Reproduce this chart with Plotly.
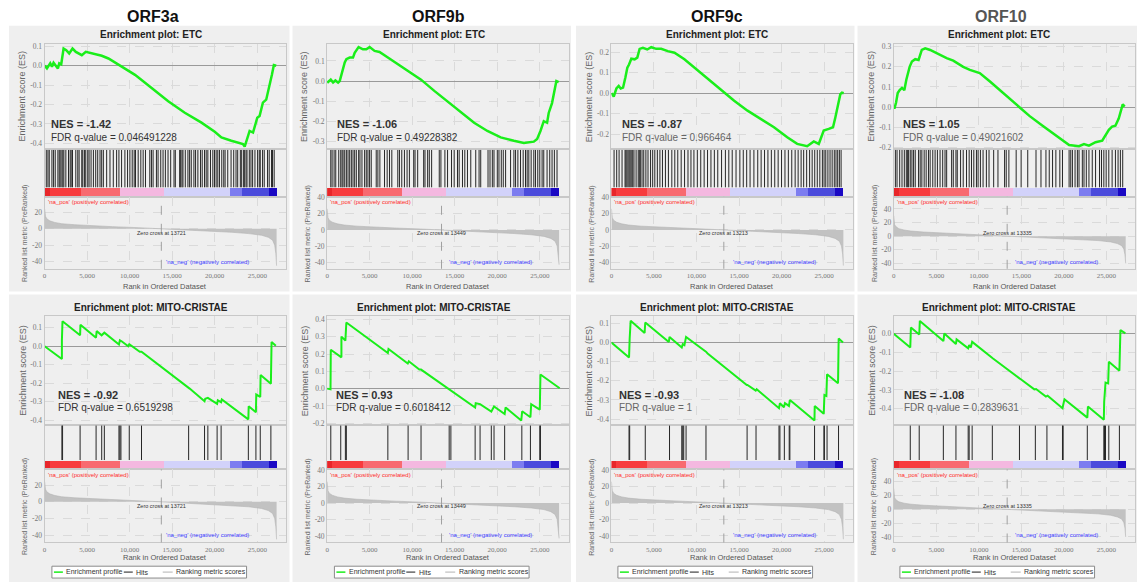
import plotly.graph_objects as go

W, H = 1137, 585

# ---------------- data ----------------
SAMPLES = ["ORF3a", "ORF9b", "ORF9c", "ORF10"]
GENE_SETS = ["ETC", "MITO-CRISTAE"]

NES_ETC = ["-1.42", "-1.06", "-0.87", "1.05"]
FDR_ETC = ["0.046491228", "0.49228382", "0.966464", "0.49021602"]
NES_MITO = ["-0.92", "0.93", "-0.93", "-1.08"]
FDR_MITO = ["0.6519298", "0.6018412", "1", "0.2839631"]
ZERO_CROSS = [13721, 13449, 13213, 13335]

RANK_TICKS = [0, 5000, 10000, 15000, 20000, 25000]

# running enrichment score, ETC
ES_ETC_ORF3A_X = [0, 270, 660, 860, 1050, 1250, 1560, 1720, 1950, 2230, 2540, 2890, 3280, 3670, 4375, 4840, 5550, 6720, 7500, 8670, 10625, 12580, 14530, 16480, 18440, 20000, 20780, 21950, 22730, 23320, 23520, 23900, 24100, 24500, 25000, 25270, 25660, 26050, 26450, 26720, 26950, 27230]
ES_ETC_ORF3A_Y = [0.0, -0.014, 0.012, -0.005, 0.015, 0.003, -0.014, 0.012, 0.007, 0.088, 0.080, 0.063, 0.088, 0.071, 0.054, 0.071, 0.063, 0.051, 0.037, 0.007, -0.047, -0.115, -0.183, -0.242, -0.293, -0.340, -0.369, -0.386, -0.395, -0.403, -0.417, -0.369, -0.336, -0.344, -0.268, -0.259, -0.190, -0.175, -0.107, -0.047, 0.003, 0.0]

ES_ETC_ORF9B_X = [0, 120, 430, 700, 975, 1290, 1480, 1755, 2070, 2260, 2650, 3040, 3240, 3700, 4210, 4600, 5000, 5580, 6160, 7140, 8300, 9480, 11040, 12600, 14160, 15720, 17280, 18840, 20400, 21960, 23130, 24300, 24690, 25080, 25470, 25860, 26050, 26440, 26640, 26950, 27220]
ES_ETC_ORF9B_Y = [0.0, -0.005, 0.007, -0.007, 0.003, -0.008, 0.0, 0.044, 0.093, 0.109, 0.117, 0.117, 0.141, 0.169, 0.158, 0.158, 0.169, 0.150, 0.145, 0.117, 0.085, 0.052, 0.007, -0.049, -0.102, -0.156, -0.208, -0.249, -0.281, -0.298, -0.309, -0.302, -0.289, -0.249, -0.200, -0.208, -0.159, -0.110, -0.062, 0.0, -0.005]

ES_ETC_ORF9C_X = [0, 273, 585, 858, 1090, 1365, 1640, 1870, 2070, 2340, 2730, 3040, 3315, 3700, 4210, 4680, 5265, 5850, 6630, 7410, 8580, 9750, 11310, 12870, 14430, 16000, 17550, 19110, 20670, 21840, 23010, 23790, 24375, 24960, 25545, 26050, 26325, 26640, 26910, 27100, 27300]
ES_ETC_ORF9C_Y = [0.0, -0.016, 0.023, 0.035, 0.023, 0.027, 0.076, 0.124, 0.140, 0.168, 0.165, 0.173, 0.216, 0.221, 0.213, 0.224, 0.216, 0.216, 0.205, 0.197, 0.165, 0.124, 0.071, 0.016, -0.037, -0.085, -0.126, -0.166, -0.215, -0.247, -0.258, -0.235, -0.247, -0.182, -0.174, -0.166, -0.118, -0.061, -0.005, 0.003, 0.0]

ES_ETC_ORF10_X = [0, 78, 270, 470, 700, 970, 1245, 1480, 1870, 2140, 2530, 2920, 3300, 3700, 4280, 5060, 6220, 7000, 8170, 8950, 10110, 11280, 12840, 14390, 15950, 17500, 19060, 20620, 21780, 22370, 22950, 23730, 24510, 24900, 25290, 25670, 26060, 26450, 26760, 26920, 27150]
ES_ETC_ORF10_Y = [0.0, -0.008, 0.021, 0.070, 0.084, 0.095, 0.084, 0.136, 0.200, 0.226, 0.238, 0.234, 0.284, 0.292, 0.284, 0.267, 0.243, 0.231, 0.200, 0.185, 0.169, 0.128, 0.070, 0.013, -0.044, -0.093, -0.143, -0.189, -0.195, -0.184, -0.192, -0.175, -0.167, -0.143, -0.113, -0.097, -0.093, -0.057, -0.011, 0.013, 0.002]

# running enrichment score, MITO-CRISTAE
ES_MITO_ORF3A_X = [0, 2030, 2030, 2100, 4170, 4210, 6040, 6120, 6700, 7020, 8740, 8850, 9050, 9830, 9950, 11190, 11390, 16930, 17050, 18800, 18880, 19190, 20280, 20360, 20750, 20830, 23950, 23990, 24840, 24880, 25350, 25390, 26600, 26680, 27180]
ES_MITO_ORF3A_Y = [0.0, -0.069, 0.032, 0.135, 0.059, 0.116, 0.046, 0.082, 0.059, 0.073, 0.009, 0.032, 0.027, 0.0, 0.011, -0.030, -0.030, -0.226, -0.229, -0.297, -0.284, -0.279, -0.311, -0.292, -0.302, -0.288, -0.395, -0.324, -0.356, -0.261, -0.274, -0.155, -0.203, 0.023, 0.002]

ES_MITO_ORF9B_X = [0, 400, 430, 1680, 1680, 2145, 2260, 7140, 7215, 9480, 9600, 10840, 11040, 14160, 14550, 17400, 17470, 17980, 19300, 19620, 20870, 20980, 22820, 22930, 23900, 23990, 25000, 25040, 25080, 27340]
ES_MITO_ORF9B_Y = [0.0, -0.004, 0.225, 0.181, 0.301, 0.278, 0.383, 0.206, 0.229, 0.145, 0.158, 0.110, 0.110, 0.0, -0.013, -0.109, -0.084, -0.090, -0.133, -0.103, -0.147, -0.109, -0.185, -0.131, -0.166, -0.090, -0.122, -0.023, 0.082, 0.002]

ES_MITO_ORF9C_X = [0, 2070, 2145, 2260, 3900, 3980, 6750, 6830, 8270, 8385, 8580, 8775, 11115, 11310, 15910, 15990, 16965, 17080, 19700, 19810, 20280, 20400, 20870, 20980, 23870, 23900, 24960, 25040, 25270, 25350, 26640, 26715, 27220]
ES_MITO_ORF9C_Y = [0.0, -0.078, 0.021, 0.113, 0.050, 0.104, 0.003, 0.029, -0.026, -0.009, -0.014, 0.029, -0.048, -0.057, -0.222, -0.222, -0.251, -0.244, -0.343, -0.317, -0.338, -0.317, -0.331, -0.300, -0.407, -0.331, -0.372, -0.274, -0.279, -0.166, -0.213, 0.021, 0.0]

ES_MITO_ORF10_X = [0, 1945, 2020, 3000, 3070, 5840, 5950, 7310, 7390, 8750, 8870, 9060, 9220, 11480, 11670, 14780, 14980, 16530, 16730, 17890, 18090, 19840, 19920, 20070, 22760, 22830, 24700, 24740, 24900, 25210, 25290, 26530, 26650, 27230]
ES_MITO_ORF10_Y = [0.0, -0.073, 0.034, -0.004, 0.069, -0.039, 0.002, -0.055, -0.030, -0.078, -0.060, -0.073, -0.043, -0.126, -0.132, -0.238, -0.244, -0.297, -0.295, -0.336, -0.331, -0.398, -0.372, -0.350, -0.448, -0.389, -0.460, -0.363, -0.261, -0.265, -0.149, -0.197, 0.020, 0.002]

# hit positions (rank of each gene of the set)
HITS_ETC_ORF3A = [195, 390, 546, 858, 1053, 1248, 1560, 1716, 1833, 2028, 2145, 2262, 2496, 2808, 3003, 3120, 3276, 3666, 3900, 4056, 4368, 4485, 4680, 4836, 5070, 5226, 5460, 5733, 6006, 6240, 6513, 6708, 6903, 7293, 7683, 8073, 8463, 8736, 9048, 9438, 9750, 10023, 10296, 10530, 10686, 10998, 11310, 11583, 11856, 12363, 12558, 12753, 13143, 13338, 13650, 13923, 14196, 14508, 14820, 15210, 15366, 15873, 15990, 16146, 16263, 16536, 16848, 17043, 17238, 17550, 17745, 18018, 18330, 18525, 18798, 18993, 19188, 19500, 19773, 19968, 20163, 20358, 20553, 20826, 21060, 21216, 21528, 21918, 22230, 22503, 22698, 23010, 23166, 23400, 23478, 23673, 23790, 24063, 24258, 24453, 24726, 25038, 25233, 25350, 25623, 25818, 26208, 26403, 26676, 26793, 26988]
HITS_ETC_ORF9B = [429, 585, 819, 1014, 1365, 1599, 1755, 1872, 2067, 2262, 2457, 2652, 2847, 3042, 3237, 3432, 3705, 3861, 4095, 4407, 4602, 4797, 4992, 5187, 5772, 5967, 6201, 6747, 7059, 7332, 7605, 8307, 8502, 8775, 9087, 9399, 9672, 10179, 10335, 10647, 11349, 11505, 11817, 12012, 12285, 13182, 13377, 13845, 14157, 14625, 14937, 15327, 15522, 15912, 16185, 16497, 16887, 17472, 17862, 18057, 18915, 19149, 19422, 19617, 20007, 20202, 20475, 20709, 20982, 21567, 21957, 22152, 22425, 22737, 23049, 23322, 23517, 23712, 23985, 24297, 24492, 24765, 24999, 25272, 25467, 25857, 26169, 26442, 26715, 27027]
HITS_ETC_ORF9C = [310, 620, 900, 1250, 1600, 1700, 1820, 1950, 2080, 2200, 2330, 2500, 2650, 2900, 3150, 3280, 3400, 3600, 3800, 4050, 4300, 4600, 4850, 5100, 5400, 5700, 6000, 6350, 6700, 7100, 7450, 7800, 8200, 8600, 9000, 9350, 9700, 10100, 10500, 10900, 11300, 11700, 12100, 12500, 12950, 13400, 13800, 14200, 14650, 15100, 15500, 15900, 16300, 16750, 17200, 17600, 18000, 18400, 18800, 19200, 19600, 20000, 20400, 20800, 21200, 21600, 21950, 22300, 22600, 22950, 23300, 23600, 23900, 24200, 24500, 24800, 25000, 25200, 25450, 25700, 25950, 26200, 26400, 26600, 26800, 27000]
HITS_ETC_ORF10 = [195, 389, 700, 973, 1245, 1478, 1634, 1751, 1945, 2140, 2334, 2529, 2918, 3112, 3307, 3579, 3812, 4085, 4279, 4590, 4863, 5135, 5446, 5757, 6030, 6224, 6808, 7002, 7313, 7469, 7858, 8169, 8558, 8869, 9142, 9414, 9725, 9920, 10192, 10503, 10892, 11203, 11748, 12254, 13032, 13226, 13537, 14393, 14977, 15755, 16727, 17311, 17894, 18283, 18672, 19061, 19528, 19839, 20617, 20812, 21006, 21317, 21590, 21784, 22173, 22368, 22640, 22951, 23340, 23729, 24196, 24429, 24701, 24974, 25285, 25674, 26063, 26374, 26647, 26919]

HITS_MITO_ORF3A = [2030, 2110, 4170, 6050, 6710, 7020, 8740, 8850, 8970, 9950, 11390, 16930, 18800, 19190, 20280, 20750, 23950, 24840, 25350, 26600]
HITS_MITO_ORF9B = [430, 1600, 2145, 2260, 7140, 9520, 11040, 14350, 14550, 17400, 17980, 19300, 19620, 20870, 22890, 23900, 25000, 25080]
HITS_MITO_ORF9C = [2070, 2145, 3980, 6830, 8270, 8385, 8500, 8775, 11115, 15950, 17000, 19700, 19810, 20330, 20900, 20980, 23880, 24980, 25040, 25350, 26700]
HITS_MITO_ORF10 = [1945, 2995, 5835, 7313, 8752, 8869, 9219, 11592, 14782, 16649, 18011, 19839, 19917, 22757, 24701, 24779, 24896, 25285, 26530]

# ranked list metric (PreRanked)
METRIC_ORF3A_X = [0, 30, 100, 250, 600, 1200, 2000, 3500, 5500, 8000, 11000, 13721, 16000, 19000, 22000, 24000, 25500, 26300, 26800, 27050, 27180, 27270]
METRIC_ORF3A_Y = [24, 19, 15, 12, 9.5, 7.5, 6, 4.8, 3.6, 2.4, 1.2, 0, -1.2, -2.6, -4.4, -6, -8, -10.5, -14, -20, -30, -45]
METRIC_ORF9B_X = [0, 30, 100, 250, 600, 1200, 2000, 3500, 5500, 8000, 11000, 13449, 16000, 19000, 22000, 24000, 25500, 26300, 26800, 27050, 27180, 27270]
METRIC_ORF9B_Y = [26, 19, 15, 12, 9.5, 7.5, 6, 4.6, 3.4, 2.3, 1.1, 0, -1.3, -2.7, -4.5, -6, -8, -10.5, -14, -20, -30, -43]
METRIC_ORF9C_X = [0, 30, 100, 250, 600, 1200, 2000, 3500, 5500, 8000, 11000, 13213, 16000, 19000, 22000, 24000, 25500, 26300, 26800, 27050, 27180, 27270]
METRIC_ORF9C_Y = [26, 19, 15, 12, 9.5, 7.5, 6, 4.6, 3.4, 2.3, 1.0, 0, -1.3, -2.8, -4.5, -6, -8, -10.5, -14, -20, -30, -44]
METRIC_ORF10_X = [0, 30, 100, 250, 600, 1200, 2000, 3500, 5500, 8000, 11000, 13335, 16000, 19000, 22000, 24000, 25500, 26300, 26800, 27050, 27180, 27270]
METRIC_ORF10_Y = [30, 21, 17, 14, 11, 9, 7.5, 6, 4.5, 3, 1.4, 0, -1.4, -3, -4.8, -6.5, -8.5, -11, -14, -19, -27, -40]

# colour bar of the ranked list (segment edges by rank)
GRAD_EDGES = [0, 620, 4180, 8870, 14020, 21690, 23130, 26380, 27270]
GRAD_COLORS = ["#e8262a", "#f73c3e", "#f86a70", "#f4b8e0", "#d2d2fa", "#7c7cf0", "#4b4bdc", "#1a08c4"]

ES_X = {("ETC", 0): ES_ETC_ORF3A_X, ("ETC", 1): ES_ETC_ORF9B_X, ("ETC", 2): ES_ETC_ORF9C_X, ("ETC", 3): ES_ETC_ORF10_X,
        ("MITO-CRISTAE", 0): ES_MITO_ORF3A_X, ("MITO-CRISTAE", 1): ES_MITO_ORF9B_X, ("MITO-CRISTAE", 2): ES_MITO_ORF9C_X, ("MITO-CRISTAE", 3): ES_MITO_ORF10_X}
ES_Y = {("ETC", 0): ES_ETC_ORF3A_Y, ("ETC", 1): ES_ETC_ORF9B_Y, ("ETC", 2): ES_ETC_ORF9C_Y, ("ETC", 3): ES_ETC_ORF10_Y,
        ("MITO-CRISTAE", 0): ES_MITO_ORF3A_Y, ("MITO-CRISTAE", 1): ES_MITO_ORF9B_Y, ("MITO-CRISTAE", 2): ES_MITO_ORF9C_Y, ("MITO-CRISTAE", 3): ES_MITO_ORF10_Y}
HITS = {("ETC", 0): HITS_ETC_ORF3A, ("ETC", 1): HITS_ETC_ORF9B, ("ETC", 2): HITS_ETC_ORF9C, ("ETC", 3): HITS_ETC_ORF10,
        ("MITO-CRISTAE", 0): HITS_MITO_ORF3A, ("MITO-CRISTAE", 1): HITS_MITO_ORF9B, ("MITO-CRISTAE", 2): HITS_MITO_ORF9C, ("MITO-CRISTAE", 3): HITS_MITO_ORF10}
METRIC_X = [METRIC_ORF3A_X, METRIC_ORF9B_X, METRIC_ORF9C_X, METRIC_ORF10_X]
METRIC_Y = [METRIC_ORF3A_Y, METRIC_ORF9B_Y, METRIC_ORF9C_Y, METRIC_ORF10_Y]
NES = {"ETC": NES_ETC, "MITO-CRISTAE": NES_MITO}
FDR = {"ETC": FDR_ETC, "MITO-CRISTAE": FDR_MITO}

# ---------------- layout / style ----------------
GREEN = "#1aee1a"
GRID = "#dadada"
BORDER = "#c8c8c8"
SANS = "Liberation Sans"
TICKFONT = dict(family="Liberation Serif", size=7.5, color="#777777")
XTICKFONT = dict(family="Liberation Serif", size=7, color="#777777")

COL_LEFT = [42.7, 325.7, 610.5, 893.3]
PLOT_W = 242.0
X_MAX = 28400
PANEL_X = [(7, 288), (291, 570), (575, 854), (857, 1137)]
COL_TITLE_X = [151, 437, 716, 1000.5]
COL_TITLE_COLOR = ["#111111", "#111111", "#111111", "#555555"]
FDR_COLOR = ["#333333", "#333333", "#666666", "#666666"]
ROW_GEOM = [
    dict(bg=(22, 291), title=31, es=(40, 147), hits=(147, 195), rank=(195, 268), xlab=285.5, nes=121.5, fdr=135.5),
    dict(bg=(294, 585), title=307, es=(316, 426), hits=(426, 471), rank=(471, 545), xlab=560.5, nes=396, fdr=408.5),
]
NES_DX = [[4, 8, 9, 7.5], [11, 6.5, 5.5, 8.5]]
ES_RANGE = [[(-0.43, 0.114), (-0.34, 0.187), (-0.273, 0.242), (-0.21, 0.316)],
            [(-0.425, 0.162), (-0.21, 0.419), (-0.43, 0.137), (-0.487, 0.094)]]
RANK_RANGE = [(-48.7, 38.8), (-48, 41), (-48, 41), (-48, 58)]


def fx(p):
    return p / W


def fy(p):
    return 1 - p / H


def lbl(v, fmt):
    return (fmt % v).replace("\u2212", "-")


fig = go.Figure()
layout = {}
shapes = []
annotations = []
k = 0


def new_axes(xdom, ydom, xcfg, ycfg):
    global k
    k += 1
    sfx = "" if k == 1 else str(k)
    layout["xaxis" + sfx] = dict(domain=xdom, anchor="y" + sfx, **xcfg)
    layout["yaxis" + sfx] = dict(domain=ydom, anchor="x" + sfx, **ycfg)
    return "x" + sfx, "y" + sfx


base_x = dict(range=[0, X_MAX], showline=True, linecolor=BORDER, linewidth=1, mirror=True,
              zeroline=False, ticks="", fixedrange=True)

for r, gs in enumerate(GENE_SETS):
    g = ROW_GEOM[r]
    # panel backgrounds and titles
    for c in range(4):
        x0, x1 = PANEL_X[c]
        shapes.append(dict(type="rect", xref="paper", yref="paper", x0=fx(x0), x1=fx(x1),
                           y0=fy(g["bg"][1]), y1=fy(g["bg"][0]), fillcolor="#efefef",
                           line=dict(width=0), layer="below"))
        annotations.append(dict(x=fx((x0 + x1) / 2 + 2), y=fy(g["title"]), xref="paper", yref="paper",
                                text="<b>Enrichment plot: %s</b>" % gs, showarrow=False,
                                font=dict(family=SANS, size=10, color="#222222"),
                                xanchor="center", yanchor="middle"))
    for c in range(4):
        left = COL_LEFT[c]
        xdom = [fx(left), fx(left + PLOT_W)]
        lo, hi = ES_RANGE[r][c]
        es_vals = [i / 10 for i in range(-6, 7) if lo <= i / 10 <= hi]
        # --- ES subplot
        xa, ya = new_axes(
            xdom, [fy(g["es"][1]), fy(g["es"][0])],
            dict(base_x, showticklabels=False, showgrid=True, gridcolor=GRID, griddash="dash",
                 tickvals=RANK_TICKS),
            dict(range=[lo, hi], tickvals=es_vals, ticktext=[lbl(v, "%.1f") for v in es_vals],
                 showgrid=True, gridcolor=GRID, griddash="dash", zeroline=True, zerolinecolor="#9a9a9a",
                 zerolinewidth=1, showline=True, linecolor=BORDER, mirror=True, ticks="",
                 tickfont=TICKFONT, fixedrange=True))
        fig.add_trace(go.Scatter(x=ES_X[(gs, c)], y=ES_Y[(gs, c)], mode="lines",
                                 line=dict(color=GREEN, width=2.5 if r == 0 else 2),
                                 xaxis=xa, yaxis=ya, showlegend=False, hoverinfo="skip"))
        # --- hits + colour bar subplot
        hh = g["hits"][1] - g["hits"][0]
        cb = 9.0 / hh
        xa, ya = new_axes(
            xdom, [fy(g["hits"][1]), fy(g["hits"][0])],
            dict(base_x, showticklabels=False, showgrid=False),
            dict(range=[0, 1], showticklabels=False, showgrid=False, zeroline=False, showline=True,
                 linecolor=BORDER, mirror=True, ticks="", fixedrange=True))
        hx, hy = [], []
        for h in HITS[(gs, c)]:
            hx += [h, h, None]
            hy += [cb + 0.01, 0.985, None]
        fig.add_trace(go.Scatter(x=hx, y=hy, mode="lines", line=dict(color="#262626", width=1),
                                 xaxis=xa, yaxis=ya, showlegend=False, hoverinfo="skip"))
        centers = [(GRAD_EDGES[i] + GRAD_EDGES[i + 1]) / 2 for i in range(len(GRAD_COLORS))]
        widths = [GRAD_EDGES[i + 1] - GRAD_EDGES[i] for i in range(len(GRAD_COLORS))]
        fig.add_trace(go.Bar(x=centers, y=[cb] * len(centers), width=widths, base=0,
                             marker=dict(color=GRAD_COLORS, line=dict(width=0)),
                             xaxis=xa, yaxis=ya, showlegend=False, hoverinfo="skip"))
        # --- ranked list metric subplot
        rlo, rhi = RANK_RANGE[c]
        r_vals = [v for v in range(-40, 61, 20) if rlo <= v <= rhi]
        xa, ya = new_axes(
            xdom, [fy(g["rank"][1]), fy(g["rank"][0])],
            dict(base_x, showticklabels=True, tickvals=RANK_TICKS,
                 ticktext=["{:,}".format(v) for v in RANK_TICKS], showgrid=True, gridcolor=GRID,
                 griddash="dash", tickfont=XTICKFONT),
            dict(range=[rlo, rhi], tickvals=r_vals, ticktext=[str(v) for v in r_vals],
                 showgrid=True, gridcolor=GRID, griddash="dash", zeroline=False, showline=True,
                 linecolor=BORDER, mirror=True, ticks="", tickfont=TICKFONT, fixedrange=True))
        fig.add_trace(go.Scatter(x=METRIC_X[c], y=METRIC_Y[c], mode="lines", fill="tozeroy",
                                 fillcolor="#c2c2c2", line=dict(color="#b4b4b4", width=0.6),
                                 xaxis=xa, yaxis=ya, showlegend=False, hoverinfo="skip"))
        shapes.append(dict(type="line", xref=xa, yref=ya + " domain", x0=ZERO_CROSS[c], x1=ZERO_CROSS[c],
                           y0=0, y1=1, line=dict(color="#a0a0a0", width=1, dash="dash")))
        annotations.append(dict(x=ZERO_CROSS[c], y=0.5, xref=xa, yref=ya + " domain",
                                text="Zero cross at %d" % ZERO_CROSS[c], showarrow=False,
                                font=dict(family=SANS, size=5.5, color="#333333"),
                                xanchor="center", yanchor="middle"))
        annotations.append(dict(x=0.004, y=0.99, xref=xa + " domain", yref=ya + " domain",
                                text="'na_pos' (positively correlated)", showarrow=False,
                                font=dict(family=SANS, size=6, color="#ff2a2a"),
                                xanchor="left", yanchor="top"))
        annotations.append(dict(x=24300, y=0.03, xref=xa, yref=ya + " domain",
                                text="'na_neg' (negatively correlated)", showarrow=False,
                                font=dict(family=SANS, size=6, color="#3c3cff"),
                                xanchor="right", yanchor="bottom"))
        # --- texts
        annotations.append(dict(x=fx(left + NES_DX[r][c]), y=fy(g["nes"]), xref="paper", yref="paper",
                                text="<b>NES = %s</b>" % NES[gs][c], showarrow=False,
                                font=dict(family=SANS, size=11, color="#333333"),
                                xanchor="left", yanchor="middle"))
        annotations.append(dict(x=fx(left + NES_DX[r][c]), y=fy(g["fdr"]), xref="paper", yref="paper",
                                text="FDR q-value = %s" % FDR[gs][c], showarrow=False,
                                font=dict(family=SANS, size=10, color=FDR_COLOR[c]),
                                xanchor="left", yanchor="middle"))
        annotations.append(dict(x=fx(left - 22.5), y=fy((g["es"][0] + g["es"][1]) / 2), xref="paper",
                                yref="paper", text="Enrichment score (ES)", textangle=-90, showarrow=False,
                                font=dict(family=SANS, size=9, color="#666666"),
                                xanchor="center", yanchor="middle"))
        annotations.append(dict(x=fx(left - 19.5), y=fy((g["rank"][0] + g["rank"][1]) / 2 + 1),
                                xref="paper", yref="paper", text="Ranked list metric (PreRanked)",
                                textangle=-90, showarrow=False,
                                font=dict(family=SANS, size=7, color="#666666"),
                                xanchor="center", yanchor="middle"))
        annotations.append(dict(x=fx(left + PLOT_W / 2), y=fy(g["xlab"]), xref="paper", yref="paper",
                                text="Rank in Ordered Dataset", showarrow=False,
                                font=dict(family=SANS, size=7.5, color="#555555"),
                                xanchor="center", yanchor="middle"))

# column titles
for c, s in enumerate(SAMPLES):
    annotations.append(dict(x=fx(COL_TITLE_X[c]), y=fy(12.5), xref="paper", yref="paper",
                            text="<b>%s</b>" % s, showarrow=False,
                            font=dict(family=SANS, size=16, color=COL_TITLE_COLOR[c]),
                            xanchor="center", yanchor="middle"))

# legends (bottom row)
for c in range(4):
    cx = (PANEL_X[c][0] + PANEL_X[c][1]) / 2
    L = cx - 97.5
    yc = 575
    shapes.append(dict(type="rect", xref="paper", yref="paper", x0=fx(L), x1=fx(L + 195),
                       y0=fy(581), y1=fy(569), fillcolor="#ffffff",
                       line=dict(color="#8a8a8a", width=1)))
    items = [(2, 11, GREEN, "Enrichment profile", 12.5), (72, 81, "#666666", "Hits", 82.5),
             (111, 121, "#cccccc", "Ranking metric scores", 122.5)]
    for a, b, col, txt, tx in items:
        shapes.append(dict(type="line", xref="paper", yref="paper", x0=fx(L + a), x1=fx(L + b),
                           y0=fy(yc), y1=fy(yc), line=dict(color=col, width=1.5)))
        annotations.append(dict(x=fx(L + tx), y=fy(yc), xref="paper", yref="paper", text=txt,
                                showarrow=False, font=dict(family=SANS, size=7, color="#333333"),
                                xanchor="left", yanchor="middle"))

fig.update_layout(
    width=W, height=H, margin=dict(l=0, r=0, t=0, b=0),
    paper_bgcolor="#ffffff", plot_bgcolor="#ffffff",
    showlegend=False, shapes=shapes, annotations=annotations, bargap=0,
    **layout,
)
fig.write_html("out.html")
